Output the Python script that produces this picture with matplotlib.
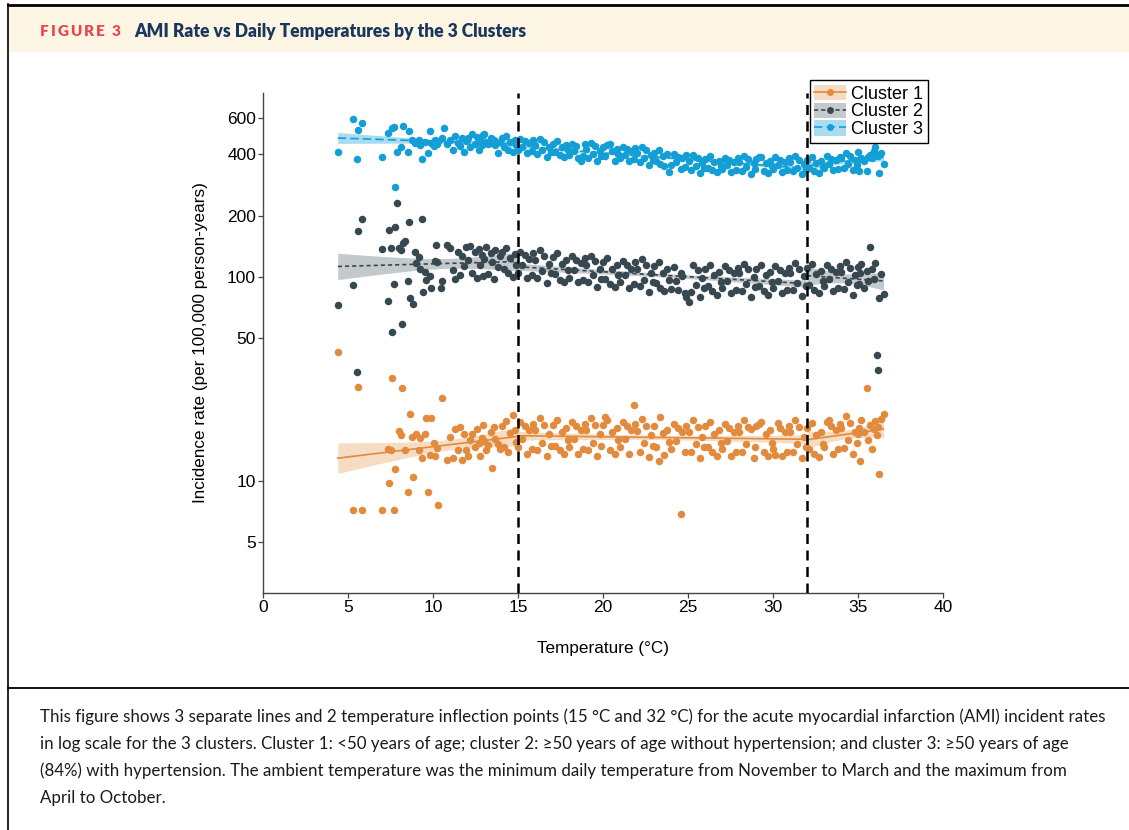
import numpy as np
import matplotlib
matplotlib.use("Agg")
import matplotlib.pyplot as plt
from matplotlib.lines import Line2D
from matplotlib.patches import Patch, Rectangle
from matplotlib.legend_handler import HandlerTuple

nan = np.nan

# daily minimum/maximum temperature (°C), shared by the 3 clusters
temp = [4.4, 5.3, 5.5, 5.6, 5.8, 7.0, 7.35, 7.4, 7.5, 7.6, 7.7, 7.75, 7.9, 8.0, 8.1,
        8.2, 8.25, 8.35, 8.5, 8.6, 8.65, 8.75, 8.85, 8.95, 9.0, 9.15, 9.25, 9.35, 9.4,
        9.5, 9.6, 9.7, 9.8, 9.9, 10.05, 10.1, 10.2, 10.25, 10.3, 10.45, 10.55, 10.65, 10.85,
        11.0, 11.2, 11.3, 11.45, 11.6, 11.7, 11.8, 11.95,
        12.05, 12.2, 12.3, 12.45, 12.6, 12.7, 12.75, 12.9, 12.95,
        13.0, 13.1, 13.25, 13.4, 13.45, 13.6, 13.65, 13.8, 13.95,
        14.05, 14.2, 14.3, 14.4, 14.55, 14.7, 14.8, 14.9,
        15.0, 15.1, 15.25, 15.4, 15.5, 15.65, 15.8, 15.9,
        16.0, 16.1, 16.3, 16.4, 16.5, 16.7, 16.8, 16.95,
        17.05, 17.2, 17.3, 17.45, 17.6, 17.7, 17.85, 17.95,
        18.0, 18.15, 18.3, 18.4, 18.55, 18.7, 18.8, 18.95,
        19.0, 19.1, 19.3, 19.4, 19.5, 19.65, 19.8, 19.9,
        20.0, 20.1, 20.25, 20.4, 20.55, 20.7, 20.8, 20.9,
        21.0, 21.15, 21.3, 21.4, 21.5, 21.65, 21.8, 21.9,
        22.0, 22.15, 22.3, 22.4, 22.55, 22.7, 22.8, 22.95,
        23.0, 23.1, 23.3, 23.35, 23.5, 23.6, 23.75, 23.9,
        24.0, 24.15, 24.3, 24.4, 24.6, 24.65, 24.8, 24.9,
        25.05, 25.2, 25.3, 25.45, 25.6, 25.7, 25.85, 25.95,
        26.0, 26.15, 26.3, 26.4, 26.55, 26.7, 26.8, 26.95,
        27.0, 27.15, 27.3, 27.4, 27.55, 27.7, 27.8, 27.95,
        28.0, 28.15, 28.3, 28.4, 28.55, 28.7, 28.9, 28.95,
        29.0, 29.2, 29.3, 29.45, 29.6, 29.7, 29.85, 29.95,
        30.0, 30.1, 30.3, 30.4, 30.55, 30.7, 30.8, 30.95,
        31.0, 31.15, 31.3, 31.4, 31.55, 31.7, 31.8, 31.95,
        32.0, 32.1, 32.3, 32.4, 32.55, 32.7, 32.8, 32.95,
        33.0, 33.15, 33.3, 33.4, 33.55, 33.7, 33.8, 33.95,
        34.0, 34.15, 34.3, 34.4, 34.55, 34.7, 34.8, 34.95,
        35.0, 35.05, 35.1, 35.2, 35.35, 35.5, 35.6, 35.7, 35.85,
        35.95, 36.0, 36.1, 36.15, 36.25, 36.35, 36.5]

# incidence rate per 100,000 person-years
cluster1 = [43, 7.2, nan, 29, 7.2, 7.2, 14.3, 9.8, 14.2, 32, 7.2, 11.5, nan, 17.5, 16.8,
            28.6, nan, 14.2, 8.8, nan, 21.3, 16.4, 10.5, nan, 17.0, 14.1, 16.2, 13.0, nan,
            16.9, 20.3, 8.8, 13.4, 20.3, 15.4, 13.2, nan, 14.5, 7.6, nan, 25.6, nan, 12.6,
            16.5, 12.9, 17.9, 14.2, 18.3, 12.6, 16.9, 14.2,
            13.2, 15.8, 16.9, 14.6, 18.0, 15.3, 13.3, 16.2, 18.7,
            15.7, 14.2, 15.0, 17.3, 11.6, 18.4, 16.1, 15.2, 14.3,
            18.6, 14.7, 19.6, 13.9, 17.1, 21.0, 17.8, 15.5,
            14.6, 19.4, 16.1, 18.6, 13.6, 17.8, 14.3, 19.1,
            17.8, 14.1, 20.3, 15.4, 18.8, 13.3, 16.9, 14.9,
            18.9, 14.9, 19.9, 14.1, 17.4, 13.6, 18.1, 15.8,
            14.6, 19.4, 16.1, 18.6, 13.6, 17.8, 14.3, 19.1,
            17.8, 14.1, 20.3, 15.4, 18.8, 13.3, 16.9, 14.9,
            18.9, 20.6, 19.9, 14.1, 17.4, 13.6, 18.1, 15.8,
            14.6, 19.4, 16.1, 18.6, 13.6, 17.8, 23.6, 19.1,
            17.5, 13.9, 20.0, 15.3, 18.5, 13.1, 16.7, 14.8,
            18.6, 14.7, 12.5, 20.6, 17.1, 13.4, 17.8, 15.5,
            14.3, 19.0, 15.7, 18.1, 6.9, 17.3, 13.9, 18.6,
            17.3, 13.8, 19.8, 15.1, 18.3, 13.0, 16.5, 14.6,
            18.5, 14.6, 19.4, 13.8, 17.0, 13.3, 17.7, 15.4,
            14.3, 19.0, 15.7, 18.1, 13.3, 17.3, 13.9, 18.6,
            17.3, 13.8, 19.8, 15.1, 18.3, 17.9, 13.0, 14.6,
            18.5, 19.1, 19.4, 13.8, 17.0, 13.3, 17.7, 15.4,
            14.3, 13.4, 19.2, 18.1, 13.3, 17.3, 13.9, 18.6,
            17.3, 13.8, 19.8, 15.1, 18.3, 13.0, 16.5, 14.6,
            18.2, 14.4, 19.2, 13.6, 16.8, 13.1, 17.4, 15.2,
            14.6, 19.4, 19.9, 18.6, 13.6, 17.8, 14.3, 19.1,
            18.2, 14.5, 20.7, 15.8, 19.2, 13.6, 17.3, 15.3,
            16.9, 18.1, 12.5, 19.9, 17.4, 28.6, 15.8, 18.8, 14.4,
            17.9, 19.6, 16.7, 18.4, 10.8, 20.1, 21.4]

cluster2 = [73, 91, 34, 168, 192, 137, 76, 170, 138, 54, 92, 175, 230, 139, 136,
            59, 146, 150, 95, 187, 79, nan, 74, 132, 117, 125, 110, 193, 84,
            106, 97, nan, 101, 88, nan, 120, 144, 118, nan, 88, 96, nan, 144,
            138, 108, 98, 132, 102, 126, 113, 141,
            121, 142, 104, 133, 99, 137, 115, 128, 101,
            122, 140, 103, 131, 118, 98, 136, 112, 127,
            133, 109, 139, 104, 124, 100, 129, 114,
            104, 133, 114, 128, 99, 123, 102, 131,
            121, 99, 135, 107, 127, 93, 116, 104,
            125, 103, 131, 97, 116, 94, 121, 108,
            99, 127, 108, 121, 94, 117, 97, 124,
            114, 94, 127, 102, 120, 89, 110, 98,
            119, 98, 124, 92, 110, 89, 114, 102,
            94, 120, 102, 114, 88, 110, 92, 118,
            109, 90, 122, 97, 114, 84, 105, 94,
            113, 93, 118, 88, 105, 85, 109, 97,
            87, 112, 95, 86, 104, 101, 83, 80,
            75, 84, 114, 91, 108, 80, 99, 88,
            110, 90, 115, 85, 102, 82, 106, 94,
            88, 113, 96, 108, 83, 104, 86, 111,
            104, 85, 116, 92, 109, 80, 100, 89,
            110, 90, 115, 85, 102, 82, 106, 94,
            88, 113, 96, 108, 83, 104, 86, 111,
            105, 86, 117, 93, 110, 81, 101, 90,
            111, 91, 116, 86, 103, 83, 107, 95,
            90, 115, 98, 110, 85, 106, 88, 113,
            106, 87, 118, 94, 111, 82, 102, 91,
            112, 92, 104, 116, 88, 107, 95, 141, 110,
            98, 117, 41.5, 35, 79, 103, 82.5]

cluster3 = [408, 595, 379, 525, 566, 387, 510, nan, nan, 536, 546, 275, 411, nan, 435,
            nan, 550, nan, 411, 520, nan, 468, nan, 452, nan, 470, 445, 379, nan,
            460, nan, 407, 520, 455, 440, 470, nan, 448, 462, nan, 480, 536, 450,
            472, 419, 490, 455, 438, 481, 408, 462,
            478, 432, 505, 451, 486, 418, 468, 445, 496,
            502, 461, 447, 478, 455, 470, 442, 404, 458,
            479, 434, 493, 420, 461, 411, 470, 443,
            418, 475, 436, 462, 405, 453, 414, 471,
            445, 402, 475, 419, 458, 389, 436, 410,
            450, 408, 463, 395, 434, 387, 442, 417,
            397, 451, 414, 439, 385, 370, 393, 447,
            424, 383, 453, 400, 437, 371, 416, 391,
            432, 392, 445, 447, 416, 371, 424, 400,
            382, 434, 398, 422, 370, 414, 378, 430,
            406, 366, 433, 382, 418, 355, 398, 374,
            407, 369, 419, 357, 392, 349, 399, 328,
            352, 400, 366, 389, 340, 381, 348, 396,
            371, 335, 396, 349, 382, 324, 364, 342,
            379, 344, 390, 333, 365, 326, 372, 351,
            338, 384, 352, 374, 328, 367, 335, 381,
            368, 332, 393, 346, 378, 321, 361, 339,
            378, 388, 389, 332, 364, 325, 371, 350,
            339, 386, 353, 375, 328, 368, 336, 382,
            366, 330, 391, 344, 376, 320, 359, 337,
            376, 341, 387, 330, 362, 323, 369, 348,
            344, 391, 358, 380, 333, 373, 340, 387,
            381, 344, 407, 359, 392, 333, 374, 352,
            411, 330, 378, 384, 372, 330, 389, 396, 381,
            415, 435, 398, 392, 322, 405, 358]

breaks = [15, 32]
names = ["Cluster 1", "Cluster 2", "Cluster 3"]
y_ticks = [5, 10, 50, 100, 200, 400, 600]
x_ticks = [0, 5, 10, 15, 20, 25, 30, 35, 40]

colors = ["#e28b3e", "#374850", "#149ed6"]
bands = ["#f6dcc2", "#c4c9cc", "#a9dcf1"]
styles = ["-", (0, (2.5, 1.8)), (0, (5, 2.5))]

caption = [
    "This figure shows 3 separate lines and 2 temperature inflection points (15 °C and 32 °C) for the acute myocardial infarction (AMI) incident rates",
    "in log scale for the 3 clusters. Cluster 1: <50 years of age; cluster 2: ≥50 years of age without hypertension; and cluster 3: ≥50 years of age",
    "(84%) with hypertension. The ambient temperature was the minimum daily temperature from November to March and the maximum from",
    "April to October.",
]

W, H = 1129, 830
def fx(px):
    return px / W
def fy(py):
    return 1 - py / H

plt.rcParams['font.family'] = ['Liberation Sans', 'DejaVu Sans']

fig = plt.figure(figsize=(W / 100, H / 100), dpi=100)
fig.patch.set_facecolor("white")

# header band and frame
fig.add_artist(Rectangle((fx(9), fy(52)), 1 - fx(9), fy(7) - fy(52),
                         transform=fig.transFigure, fc="#fdf6e4", ec="none"))
fig.add_artist(Line2D([fx(8), 1], [fy(5), fy(5)], transform=fig.transFigure, color="black", lw=2))
fig.add_artist(Line2D([fx(8), fx(8)], [fy(4), 0], transform=fig.transFigure, color="black", lw=1.2))
fig.add_artist(Line2D([fx(8), 1], [fy(688), fy(688)], transform=fig.transFigure, color="black", lw=1.3))

ax = fig.add_axes([fx(263), fy(593), fx(943) - fx(263), fy(93) - fy(593)])

t = np.array(temp)
data = [np.array(cluster1, dtype=float), np.array(cluster2, dtype=float), np.array(cluster3, dtype=float)]


def seg_fit(x, y, lo, hi):
    # robust (Huber) straight-line fit of log10(rate) on temperature, with 95% band
    m = (x >= lo) & (x <= hi) & ~np.isnan(y)
    xx, ly = x[m], np.log10(y[m])
    X = np.column_stack([np.ones_like(xx), xx])
    w = np.ones_like(xx)
    for _ in range(40):
        Xw = X * w[:, None]
        beta = np.linalg.solve(X.T @ Xw, Xw.T @ ly)
        r = ly - X @ beta
        s = np.median(np.abs(r)) / 0.6745
        u = np.abs(r) / (1.345 * s)
        w = np.where(u <= 1, 1.0, 1.0 / u)
    s2 = np.sum(w * r ** 2) / (len(xx) - 2)
    cov = s2 * np.linalg.inv(X.T @ (X * w[:, None]))
    xs = np.linspace(xx.min(), xx.max(), 60)
    Xs = np.column_stack([np.ones_like(xs), xs])
    f = Xs @ beta
    se = np.sqrt(np.einsum("ij,jk,ik->i", Xs, cov, Xs))
    return xs, 10 ** f, 10 ** (f - 1.96 * se), 10 ** (f + 1.96 * se)


edges = [t.min()] + breaks + [t.max()]
for y, c, bc, ls in zip(data, colors, bands, styles):
    for lo, hi in zip(edges[:-1], edges[1:]):
        xs, f, lo_b, hi_b = seg_fit(t, y, lo, hi)
        ax.fill_between(xs, lo_b, hi_b, color=bc, lw=0, zorder=1)
        ax.plot(xs, f, color=c, ls=ls, lw=1.2, zorder=2)

for y, c in zip(data, colors):
    ax.plot(t, y, "o", color=c, markersize=5.4, mec="none", zorder=3)

for b in breaks:
    ax.axvline(b, color="black", lw=1.8, ls=(0, (4, 2.6)), zorder=4)

ax.set_yscale("log")
ax.set_xlim(0, 40)
ax.set_ylim(2.82, 798)
ax.set_yticks(y_ticks)
ax.set_yticklabels([str(v) for v in y_ticks])
ax.yaxis.set_minor_locator(matplotlib.ticker.NullLocator())
ax.set_xticks(x_ticks)
ax.set_xticklabels([str(v) for v in x_ticks])
for side in ["top", "right"]:
    ax.spines[side].set_visible(False)
for side in ["left", "bottom"]:
    ax.spines[side].set_color("#444444")
    ax.spines[side].set_linewidth(1.0)
ax.tick_params(axis="both", direction="out", length=3.5, width=0.9, color="#444444",
               labelsize=12.5, pad=1.5, labelcolor="black")
ax.set_xlabel("Temperature (°C)", fontsize=12.3, labelpad=19)
ax.set_ylabel("Incidence rate (per 100,000 person-years)", fontsize=12.3, labelpad=14)

handles = []
for c, bc, ls in zip(colors, bands, styles):
    handles.append((Patch(facecolor=bc, edgecolor="none"),
                    Line2D([], [], color=c, ls=ls, lw=1.2, marker="o", markersize=5, mec="none")))
leg = fig.legend(handles, names, loc="upper right", bbox_to_anchor=(fx(928), fy(80)),
                 borderaxespad=0, frameon=True, fancybox=False, edgecolor="black",
                 framealpha=1, fontsize=13, numpoints=1, handlelength=1.75,
                 handleheight=0.95, labelspacing=0.0, borderpad=0.25, handletextpad=0.3,
                 handler_map={tuple: HandlerTuple(ndivide=1)})
leg.get_frame().set_linewidth(1.0)
leg.set_zorder(10)

# header and caption text, sized to the widths in the original layout
r = fig.canvas.get_renderer()
head_font = ["Lato", "DejaVu Sans"]
x = fx(40)
for ch in "FIGURE 3":
    if ch == " ":
        x += 5 / W
        continue
    tx = fig.text(x, fy(36), ch, fontsize=11, fontweight="heavy", color="#e8474f",
                  family=head_font, va="baseline")
    x += (tx.get_window_extent(r).width + 2.0) / W

title = "AMI Rate vs Daily Temperatures by the 3 Clusters"
probe = fig.text(0, 0, title, fontsize=12, fontweight="heavy", family=head_font)
tsize = 12 * 393 / probe.get_window_extent(r).width
probe.remove()
fig.text(fx(134), fy(37), title, fontsize=tsize, fontweight="heavy", color="#1b375c",
         family=head_font, va="baseline")

probes = [fig.text(0, 0, s, fontsize=12, family=head_font) for s in caption[:3]]
widest = max(p.get_window_extent(r).width for p in probes)
for p in probes:
    p.remove()
csize = 12 * 1057 / widest
for line, base in zip(caption, [722, 749, 776, 803]):
    fig.text(fx(40), fy(base), line, fontsize=csize, color="#1a1a1a",
             family=head_font, va="baseline")

fig.savefig("out.png", dpi=100)
